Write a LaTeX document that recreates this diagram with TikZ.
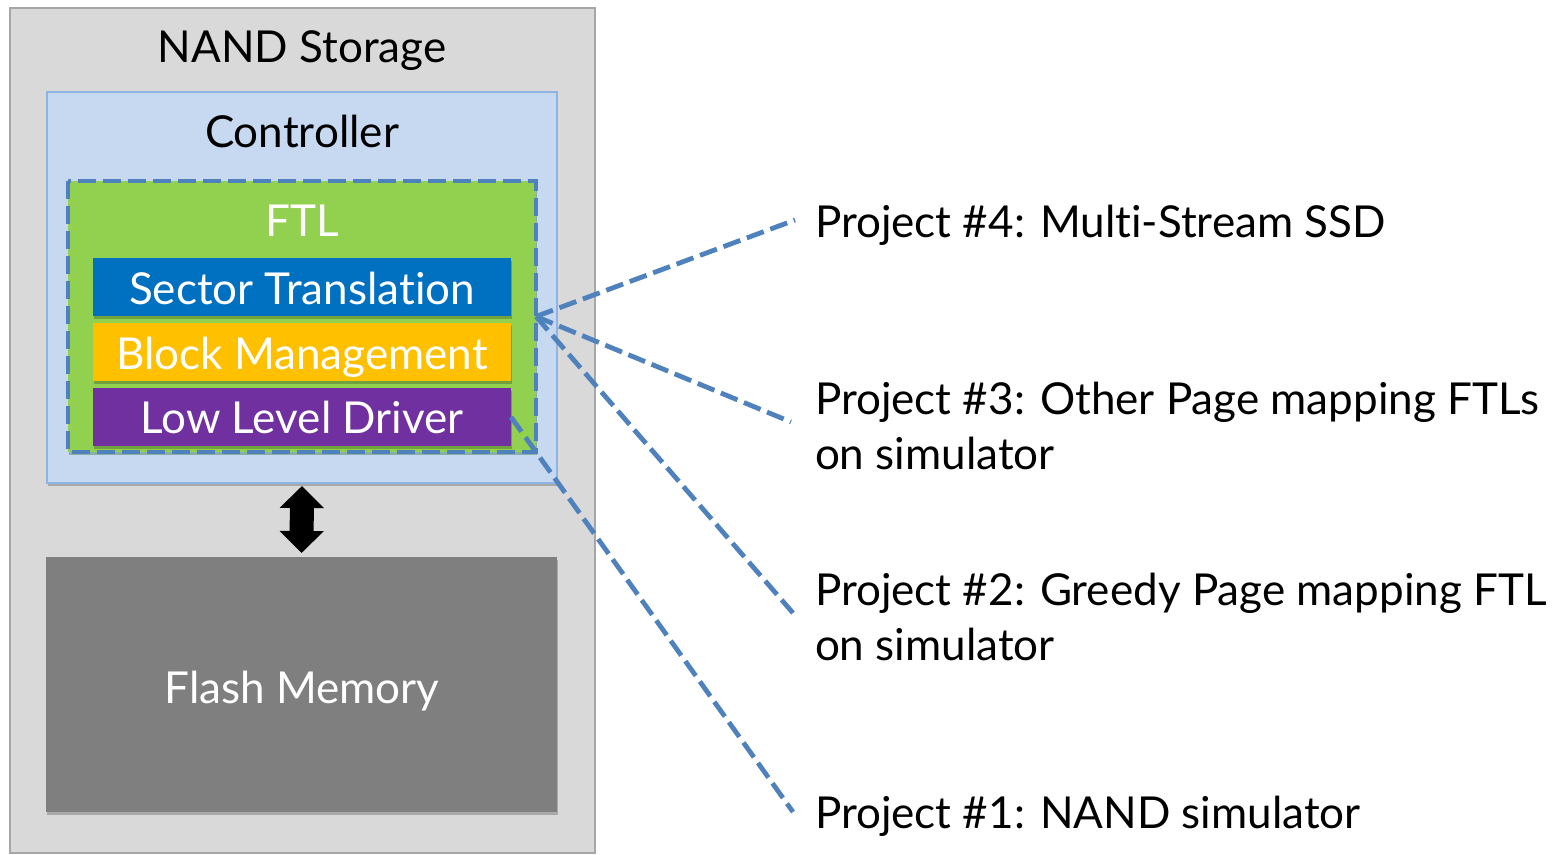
\documentclass[tikz,border=0pt]{standalone}
\usepackage{fontspec}
\setmainfont{Lato}[Ligatures=NoCommon]
\usetikzlibrary{shadows,arrows.meta}
\definecolor{outerfill}{HTML}{D9D9D9}
\definecolor{outerdraw}{HTML}{A6A6A6}
\definecolor{ctrlfill}{HTML}{C6D9F1}
\definecolor{ctrldraw}{HTML}{8EB4E3}
\definecolor{ftlfill}{HTML}{92D050}
\definecolor{dashblue}{HTML}{4F81BD}
\definecolor{sectorblue}{HTML}{0070C0}
\definecolor{blockyellow}{HTML}{FFC000}
\definecolor{driverpurple}{HTML}{7030A0}
\definecolor{flashgray}{HTML}{7F7F7F}
\tikzset{
  boxbase/.style={rectangle, inner sep=0pt, outer sep=0pt},
  softshadow/.style={drop shadow={shadow xshift=0.6pt, shadow yshift=-1.6pt, opacity=0.22, fill=black}},
  lbl/.style={inner sep=0pt, outer sep=0pt, font=\fontsize{22}{26}\selectfont},
  bar/.style={boxbase, minimum width=209pt, minimum height=29pt, softshadow},
  linkline/.style={draw=dashblue, line width=2.4pt, dash pattern=on 9pt off 3.5pt},
  bigarrow/.style={draw=black, line width=12pt, {Triangle[width=21.5pt,length=11pt]}-{Triangle[width=21.5pt,length=11pt]}, shorten <=1.5pt, shorten >=2pt}
}
\begin{document}
\begin{tikzpicture}[x=0.5pt,y=-0.5pt]
\useasboundingbox (0,0) rectangle (1556,855);
% containers
\node[boxbase, fill=outerfill, draw=outerdraw, line width=1pt, minimum width=292.5pt, minimum height=422.5pt] (storage) at (302.5,430.5) {};
\node[boxbase, fill=ctrlfill, draw=ctrldraw, line width=0.8pt, minimum width=255pt, minimum height=195.5pt, softshadow] (controller) at (302,287.5) {};
\node[boxbase, fill=ftlfill, minimum width=234pt, minimum height=135.5pt, drop shadow={shadow xshift=0.5pt, shadow yshift=-1.5pt, opacity=0.3, fill=black!70!green}] (ftl) at (302,316.5) {};
\node[bar, fill=sectorblue] (sector) at (302,287) {};
\node[bar, fill=blockyellow] (block) at (302,352) {};
\node[bar, fill=driverpurple] (driver) at (302,417) {};
\draw[linkline] (ftl.north west) rectangle (ftl.south east);
\node[boxbase, fill=flashgray, minimum width=255.5pt, minimum height=127.5pt, softshadow] (flash) at (301.5,684.5) {};
% labels
\node[lbl, anchor=base] (storagetext) at (302,63) {NAND Storage};
\node[lbl, anchor=base] (controllertext) at (302,148) {Controller};
\node[lbl, anchor=base, text=white] (ftltext) at (302,237) {FTL};
\node[lbl, anchor=base, text=white] (sectortext) at (302,305) {Sector Translation};
\node[lbl, anchor=base, text=white] (blocktext) at (302,370) {Block Management};
\node[lbl, anchor=base, text=white] (drivertext) at (302,433) {Low Level Driver};
\node[lbl, anchor=base, text=white] (flashtext) at (302,703) {Flash Memory};
% arrow between controller and flash
\draw[bigarrow] (controller.south) -- (flash.north);
% projects
\node[lbl, anchor=base west] (p4) at (815,238) {Project \#4: Multi-Stream SSD};
\node[lbl, anchor=base west] (p3) at (815,414) {Project \#3: Other Page mapping FTLs};
\node[lbl, anchor=base west] (p3b) at (815,469) {on simulator};
\node[lbl, anchor=base west] (p2) at (815,605) {Project \#2: Greedy Page mapping FTL};
\node[lbl, anchor=base west] (p2b) at (815,660) {on simulator};
\node[lbl, anchor=base west] (p1) at (815,828) {Project \#1: NAND simulator};
\coordinate (e4) at (795,220);
\coordinate (e3) at (791,422);
\coordinate (e2) at (793,613);
\coordinate (e1) at (793,812);
\draw[linkline] (ftl.east) -- (e4);
\draw[linkline] (ftl.east) -- (e3);
\draw[linkline] (ftl.east) -- (e2);
\draw[linkline] (driver.east) -- (e1);
\end{tikzpicture}
\end{document}
